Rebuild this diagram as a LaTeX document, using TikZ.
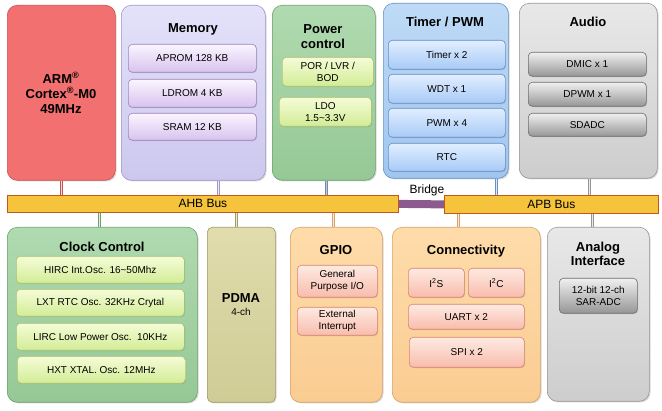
\documentclass[tikz,border=0pt]{standalone}
\usepackage{fontspec}
\setmainfont{Liberation Sans}
\usetikzlibrary{shadows,backgrounds}
\definecolor{armc}{RGB}{243,112,112}
\definecolor{armd}{RGB}{200,80,80}
\definecolor{memt}{RGB}{228,225,250}
\definecolor{memb}{RGB}{204,200,238}
\definecolor{memd}{RGB}{160,150,200}
\definecolor{msubt}{RGB}{250,245,255}
\definecolor{msubb}{RGB}{215,195,238}
\definecolor{msubd}{RGB}{160,130,190}
\definecolor{grnt}{RGB}{176,218,176}
\definecolor{grnb}{RGB}{150,200,150}
\definecolor{grnd}{RGB}{110,160,110}
\definecolor{gsubt}{RGB}{245,252,215}
\definecolor{gsubb}{RGB}{210,236,150}
\definecolor{gsubd}{RGB}{170,195,110}
\definecolor{blut}{RGB}{190,218,246}
\definecolor{blub}{RGB}{160,198,238}
\definecolor{blud}{RGB}{100,145,200}
\definecolor{bsubt}{RGB}{225,238,255}
\definecolor{bsubb}{RGB}{168,202,246}
\definecolor{bsubd}{RGB}{100,140,200}
\definecolor{gryt}{RGB}{232,232,232}
\definecolor{gryb}{RGB}{205,205,205}
\definecolor{gryd}{RGB}{150,150,150}
\definecolor{ysubt}{RGB}{240,240,240}
\definecolor{ysubb}{RGB}{150,150,150}
\definecolor{ysubd}{RGB}{110,110,110}
\definecolor{pdmt}{RGB}{224,220,172}
\definecolor{pdmb}{RGB}{208,204,150}
\definecolor{pdmd}{RGB}{160,155,100}
\definecolor{orat}{RGB}{254,220,170}
\definecolor{orab}{RGB}{250,204,146}
\definecolor{orad}{RGB}{215,160,100}
\definecolor{psubt}{RGB}{254,234,226}
\definecolor{psubb}{RGB}{248,188,172}
\definecolor{psubd}{RGB}{220,130,110}
\definecolor{busfill}{RGB}{245,196,60}
\definecolor{busline}{RGB}{190,90,30}
\definecolor{bridgec}{RGB}{140,90,140}
\begin{document}
\begin{tikzpicture}[x=1pt,y=-1pt,
  bigbox/.style={rounded corners=10pt, inner sep=0pt, anchor=north west, line width=0.6pt,
    drop shadow={shadow xshift=1.2pt, shadow yshift=-1.2pt, opacity=0.3}},
  subbox/.style={rounded corners=4pt, inner sep=1pt, line width=0.6pt, align=center,
    anchor=north west, font=\fontsize{10}{12}\selectfont,
    drop shadow={shadow xshift=0.8pt, shadow yshift=-0.8pt, opacity=0.3}},
  ttl/.style={font=\bfseries\fontsize{13}{14}\selectfont, align=center, inner sep=0pt},
  memsub/.style={subbox, draw=msubd, top color=msubt, bottom color=msubb},
  grnsub/.style={subbox, draw=gsubd, top color=gsubt, bottom color=gsubb},
  blusub/.style={subbox, draw=bsubd, top color=bsubt, bottom color=bsubb},
  grysub/.style={subbox, draw=ysubd, top color=ysubt, bottom color=ysubb},
  pnksub/.style={subbox, draw=psubd, top color=psubt, bottom color=psubb},
  busbar/.style={draw=busline, fill=busfill, line width=0.8pt, inner sep=0pt, anchor=north west,
    font=\fontsize{12}{13}\selectfont},
  conn/.style={draw=#1, double=white!80!#1, double distance=1.6pt, line width=0.7pt}
]
\useasboundingbox (0,0) rectangle (662,411);

% ---- top row
\node[bigbox, draw=armd, fill=armc, minimum width=108pt, minimum height=175pt] (arm) at (7,5) {};
\node[ttl, font=\bfseries\fontsize{13}{15}\selectfont] (armt) at (61,93) {ARM\textsuperscript{®}\\Cortex\textsuperscript{®}-M0\\49MHz};

\node[bigbox, draw=memd, top color=memt, bottom color=memb, minimum width=144pt, minimum height=175pt] (memory) at (121,5) {};
\node[ttl] (memt) at (193,29) {Memory};
\node[memsub, minimum width=128pt, minimum height=28pt] (aprom) at (128,44) {APROM 128 KB};
\node[memsub, minimum width=128pt, minimum height=28pt] (ldrom) at (128,79) {LDROM 4 KB};
\node[memsub, minimum width=128pt, minimum height=27pt] (sram) at (128,113) {SRAM 12 KB};

\node[bigbox, draw=grnd, top color=grnt, bottom color=grnb, minimum width=103pt, minimum height=175pt] (power) at (272,5) {};
\node[ttl, font=\bfseries\fontsize{13}{15}\selectfont] (powt) at (323,37) {Power\\control};
\node[grnsub, minimum width=91pt, minimum height=29pt] (por) at (282,57) {POR / LVR /\\BOD};
\node[grnsub, minimum width=92pt, minimum height=29pt] (ldo) at (279,97) {LDO\\1.5\textasciitilde3.3V};

\node[bigbox, draw=blud, top color=blut, bottom color=blub, minimum width=125pt, minimum height=175pt] (timer) at (383,3) {};
\node[ttl] (timt) at (445,22) {Timer / PWM};
\node[blusub, minimum width=117pt, minimum height=29pt] (tmr) at (388,40) {Timer x 2};
\node[blusub, minimum width=117pt, minimum height=29pt] (wdt) at (388,74) {WDT x 1};
\node[blusub, minimum width=117pt, minimum height=29pt] (pwm) at (388,108) {PWM x 4};
\node[blusub, minimum width=117pt, minimum height=28pt] (rtc) at (388,143) {RTC};

\node[bigbox, draw=gryd, top color=gryt, bottom color=gryb, minimum width=138pt, minimum height=175pt] (audio) at (519,3) {};
\node[ttl] (audt) at (588,22) {Audio};
\node[grysub, minimum width=118pt, minimum height=24pt] (dmic) at (528,52) {DMIC x 1};
\node[grysub, minimum width=118pt, minimum height=24pt] (dpwm) at (528,82) {DPWM x 1};
\node[grysub, minimum width=118pt, minimum height=23pt] (sdadc) at (528,113) {SDADC};

% ---- bottom row
\node[bigbox, draw=grnd, top color=grnt, bottom color=grnb, minimum width=190pt, minimum height=175pt] (clock) at (7,227) {};
\node[ttl] (clkt) at (102,247) {Clock Control};
\node[grnsub, minimum width=168pt, minimum height=27pt] (hirc) at (16,256) {HIRC Int.Osc. 16\textasciitilde50Mhz};
\node[grnsub, minimum width=168pt, minimum height=27pt] (lxt) at (16,289) {LXT RTC Osc. 32KHz Crytal};
\node[grnsub, minimum width=168pt, minimum height=27pt] (lirc) at (16,323) {LIRC Low Power Osc.\ \ 10KHz};
\node[grnsub, minimum width=168pt, minimum height=27pt] (hxt) at (17,356) {HXT XTAL. Osc. 12MHz};

\node[bigbox, rounded corners=5pt, draw=pdmd, top color=pdmt, bottom color=pdmb, minimum width=68pt, minimum height=175pt] (pdma) at (207,227) {};
\node[ttl] (pdmat) at (241,298) {PDMA};
\node[inner sep=0pt, font=\fontsize{10}{12}\selectfont] (pdmac) at (241,312) {4-ch};

\node[bigbox, draw=orad, top color=orat, bottom color=orab, minimum width=92pt, minimum height=175pt] (gpio) at (290,227) {};
\node[ttl] (gpiot) at (336,250) {GPIO};
\node[pnksub, minimum width=80pt, minimum height=32pt] (gpo) at (297,265) {General\\Purpose I/O};
\node[pnksub, minimum width=80pt, minimum height=28pt] (ext) at (297,307) {External\\Interrupt};

\node[bigbox, draw=orad, top color=orat, bottom color=orab, minimum width=148pt, minimum height=175pt] (conn) at (392,227) {};
\node[ttl] (connt) at (466,251) {Connectivity};
\node[pnksub, minimum width=56pt, minimum height=29pt] (i2s) at (408,268) {I\textsuperscript{2}S};
\node[pnksub, minimum width=56pt, minimum height=29pt] (i2c) at (468,268) {I\textsuperscript{2}C};
\node[pnksub, minimum width=116pt, minimum height=25pt] (uart) at (408,304) {UART x 2};
\node[pnksub, minimum width=115pt, minimum height=30pt] (spi) at (409,337) {SPI x 2};

\node[bigbox, draw=gryd, top color=gryt, bottom color=gryb, minimum width=102pt, minimum height=174pt] (analog) at (547,227) {};
\node[ttl] (anat) at (598,254) {Analog\\Interface};
\node[grysub, minimum width=78pt, minimum height=35pt] (sar) at (559,278) {12-bit 12-ch\\SAR-ADC};

% ---- buses
\node[busbar, minimum width=391pt, minimum height=17pt] (ahb) at (7,195) {AHB Bus};
\node[busbar, minimum width=214pt, minimum height=18pt] (apb) at (444,195) {APB Bus};
\begin{pgfonlayer}{background}
  \draw[bridgec, line width=8pt] (ahb.east) -- (apb.west);
\end{pgfonlayer}
\node[inner sep=0pt, font=\fontsize{12}{13}\selectfont] (bridgel) at (427,190) {Bridge};

% ---- connectors
\draw[conn=armd] (arm.south) -- (arm.south |- ahb.north);
\draw[conn=memd] ([xshift=25pt]memory.south) -- ([xshift=25pt]memory.south |- ahb.north);
\draw[conn=blud!70!gray] ([xshift=2.5pt]power.south) -- ([xshift=2.5pt]power.south |- ahb.north);
\draw[conn=blud] ([xshift=50.5pt]timer.south) -- ([xshift=50.5pt]timer.south |- apb.north);
\draw[conn=gryd] ([xshift=1pt]audio.south) -- ([xshift=1pt]audio.south |- apb.north);
\draw[conn=grnd] ([xshift=-3pt]clock.north) -- ([xshift=-3pt]clock.north |- ahb.south);
\draw[conn=pdmd] ([xshift=-5pt]pdma.north) -- ([xshift=-5pt]pdma.north |- ahb.south);
\draw[conn=orad] ([xshift=-3pt]gpio.north) -- ([xshift=-3pt]gpio.north |- ahb.south);
\draw[conn=orad] ([xshift=-8pt]conn.north) -- ([xshift=-8pt]conn.north |- apb.south);
\draw[conn=gryd] ([xshift=-6pt]analog.north) -- ([xshift=-6pt]analog.north |- apb.south);
\end{tikzpicture}
\end{document}
